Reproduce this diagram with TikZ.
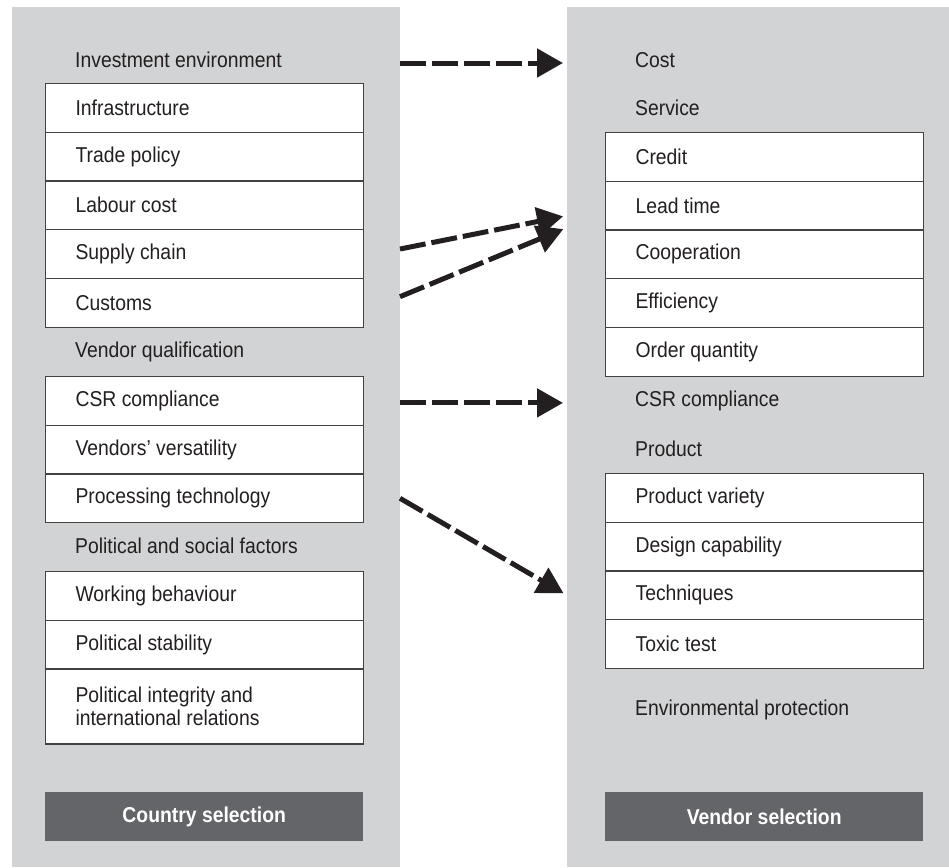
\documentclass[tikz,border=0pt]{standalone}
\usepackage{fontspec}
\setmainfont[FakeStretch=0.9]{Liberation Sans}
\usepackage{tikz}
\usetikzlibrary{arrows.meta,calc}

\definecolor{panelgray}{HTML}{D1D3D4}
\definecolor{bargray}{HTML}{646569}
\definecolor{ink}{HTML}{231F20}

\tikzset{
    panel/.style={fill=panelgray,draw=none,inner sep=0pt,outer sep=0pt,anchor=north west},
    head/.style={anchor=west,text=ink,inner sep=0pt},
    item/.style={draw=ink!85,line width=1.1pt,fill=white,anchor=north west,text=ink,
        minimum height=48.7pt,text width=258pt,inner xsep=30pt,inner ysep=0pt,align=flush left},
    bar/.style={fill=bargray,text=white,anchor=north west,inner sep=0pt,
        minimum width=318pt,minimum height=49pt,font=\fontsize{21.5}{23.5}\selectfont\bfseries},
    flow/.style={ink,line width=5pt,dash pattern=on 26pt off 6pt,
        -{Triangle[length=26pt,width=28pt]},shorten >=4pt}
}

\begin{document}
\begin{tikzpicture}[x=1pt,y=1pt,every node/.append style={font=\fontsize{21.5}{23.5}\selectfont}]
    \useasboundingbox (0,0) rectangle (949,-867);

    % the two grey columns
    \node[panel,minimum width=388pt,minimum height=860pt] (lpanel) at (12,-7) {};
    \node[panel,minimum width=382pt,minimum height=860pt] (rpanel) at (567,-7) {};

    % country side
    \node[head] (inv) at (75,-60) {Investment environment};
    \foreach \n/\t [count=\i from 0] in {infra/Infrastructure,trade/Trade policy,
            labour/Labour cost,supply/Supply chain,customs/Customs}
        \node[item] (\n) at (45,{-83-48.7*\i}) {\t};

    \node[head] (qual) at (75,-352) {Vendor qualification};
    \foreach \n/\t [count=\i from 0] in {csr/CSR compliance,vers/Vendors’ versatility,
            proc/Processing technology}
        \node[item] (\n) at (45,{-376-48.7*\i}) {\t};

    \node[head] (pol) at (75,-546) {Political and social factors};
    \node[item] (work) at (45,-571) {Working behaviour};
    \node[item] (stab) at (45,-619.7) {Political stability};
    \node[item,minimum height=75pt] (integ) at (45,-668.4) {Political integrity and\\international relations};

    \node[bar] (country) at (45,-792) {Country selection};

    % vendor side
    \node[head] (cost) at (635,-60) {Cost};
    \node[head] (service) at (635,-108) {Service};
    \foreach \n/\t [count=\i from 0] in {credit/Credit,lead/Lead time,coop/Cooperation,
            effic/Efficiency,order/Order quantity}
        \node[item] (\n) at (605,{-132-48.7*\i}) {\t};

    \node[head] (rcsr) at (635,-401) {CSR compliance};
    \node[head] (product) at (635,-449) {Product};
    \foreach \n/\t [count=\i from 0] in {variety/Product variety,design/Design capability,
            tech/Techniques,toxic/Toxic test}
        \node[item] (\n) at (605,{-473-48.7*\i}) {\t};

    \node[head] (env) at (635,-710) {Environmental protection};

    \node[bar] (vendor) at (605,-792) {Vendor selection};

    % links between the columns
    \draw[flow] ($(lpanel.east |- inv)+(0,-3)$) -- ($(rpanel.west |- cost)+(0,-3)$);
    \draw[flow] ($(lpanel.east |- supply)+(0,5)$) -- ($(rpanel.west |- lead)+(0,-10)$);
    \draw[flow] ($(lpanel.east |- customs)+(0,6)$) -- ($(rpanel.west |- lead)+(0,-22)$);
    \draw[flow] ($(lpanel.east |- csr)+(0,-2)$) -- ($(rpanel.west |- csr)+(0,-2)$);
    \draw[flow] (lpanel.east |- proc) -- (rpanel.west |- tech);
\end{tikzpicture}
\end{document}
